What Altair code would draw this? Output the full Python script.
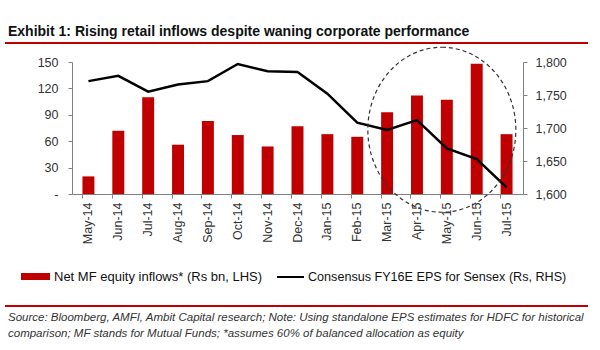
import altair as alt
import pandas as pd

months = ["May-14", "Jun-14", "Jul-14", "Aug-14", "Sep-14", "Oct-14", "Nov-14", "Dec-14",
          "Jan-15", "Feb-15", "Mar-15", "Apr-15", "May-15", "Jun-15", "Jul-15"]
inflows = [20, 72, 110, 56, 83, 67, 54, 77, 68, 65, 93, 112, 107, 148, 68]
eps = [1771, 1779, 1755, 1766, 1771, 1797, 1786, 1785, 1752, 1708, 1697, 1712, 1669, 1653, 1610]

title_text = "Exhibit 1:  Rising retail inflows despite waning corporate performance"
legend_bar = "Net MF equity inflows* (Rs bn, LHS)"
legend_line = "Consensus FY16E EPS for Sensex (Rs, RHS)"
source1 = "Source: Bloomberg, AMFI, Ambit Capital research; Note: Using standalone EPS estimates for HDFC for historical"
source2 = "comparison; MF stands for Mutual Funds; *assumes 60% of balanced allocation as equity"

df = pd.DataFrame({"month": months, "inflows": inflows, "eps": eps})

FONT = "Liberation Sans"
TXT = "#333333"
RED = "#C00000"

xscale = alt.Scale(domain=months, paddingInner=0.6, paddingOuter=0.35)

bars = alt.Chart(df).mark_bar(color=RED).encode(
    x=alt.X("month:N", sort=months, scale=xscale,
            axis=alt.Axis(title=None, labelAngle=-90, ticks=False, labelFontSize=12.5,
                          labelColor=TXT, labelFont=FONT, domainColor="#808080",
                          labelPadding=8, orient="bottom")),
    y=alt.Y("inflows:Q", scale=alt.Scale(domain=[0, 150], nice=False),
            axis=alt.Axis(title=None, values=[0, 30, 60, 90, 120, 150], grid=False,
                          labelExpr="datum.value == 0 ? '-' : datum.label",
                          labelFontSize=12.5, labelColor=TXT, labelFont=FONT,
                          domainColor="#808080", tickColor="#808080", tickSize=4,
                          labelPadding=10, orient="left")),
)

line = alt.Chart(df).mark_line(color="black", strokeWidth=2.5).encode(
    x=alt.X("month:N", sort=months, scale=xscale,
            axis=alt.Axis(title=None, labels=False, domain=False, ticks=True, tickSize=4,
                          tickColor="#808080", bandPosition=0, orient="bottom")),
    y=alt.Y("eps:Q", scale=alt.Scale(domain=[1600, 1800], nice=False),
            axis=alt.Axis(title=None, values=[1600, 1650, 1700, 1750, 1800], format=",.0f",
                          grid=False, labelFontSize=12.5, labelColor=TXT, labelFont=FONT,
                          domainColor="#808080", tickColor="#808080", tickSize=4,
                          labelPadding=8, orient="right")),
)

# dashed highlight ellipse around recent months
hl = pd.DataFrame({"month": ["May-15"], "v": [73]})
ellipse = alt.Chart(hl).mark_point(
    shape="M0,-1A0.897,1 0 1,1 0,1A0.897,1 0 1,1 0,-1Z", size=27225, filled=False,
    stroke="#333333", strokeWidth=1.2, strokeDash=[4, 3], xOffset=-5, opacity=1
).encode(
    x=alt.X("month:N", sort=months, scale=xscale, axis=None),
    y=alt.Y("v:Q", scale=alt.Scale(domain=[0, 150], nice=False), axis=None),
)

one = alt.Data(values=[{}])

def txt(text, x, y, size, weight="normal", style="normal", color=TXT, baseline="alphabetic"):
    return alt.Chart(one).mark_text(text=text, align="left", baseline=baseline, fontSize=size,
                                    font=FONT, fontWeight=weight, fontStyle=style,
                                    color=color).encode(x=alt.value(x), y=alt.value(y))

def rule(x1, x2, y, color, w):
    return alt.Chart(one).mark_rule(color=color, strokeWidth=w).encode(
        x=alt.value(x1), x2=alt.value(x2), y=alt.value(y))

title = txt(title_text, -64, -26, 14, weight="bold", color="#111111")
rule1 = rule(-67, 516, -19, RED, 2)
leg_rect = alt.Chart(one).mark_rect(color=RED).encode(
    x=alt.value(-51), x2=alt.value(-22), y=alt.value(211), y2=alt.value(218))
leg_t1 = txt(legend_bar, -18, 215, 13, baseline="middle", color="#111111")
leg_line = rule(205, 232, 215, "black", 2)
leg_t2 = txt(legend_line, 236, 215, 12.6, baseline="middle", color="#111111")
rule2 = rule(-67, 516, 244, RED, 2)
src1 = txt(source1, -64, 259, 11.5, style="italic")
src2 = txt(source2, -64, 275, 11.5, style="italic")

main = alt.layer(bars, line, ellipse).resolve_scale(y="independent").resolve_axis(x="independent", y="independent")

chart = alt.layer(main, title, rule1, leg_rect, leg_t1, leg_line, leg_t2, rule2, src1, src2).properties(
    width=451, height=132,
    autosize=alt.AutoSizeParams(type="none"),
    padding={"left": 72, "top": 62, "right": 77, "bottom": 156},
    background="white",
).configure_view(stroke=None)

chart.save("out.html", embed_options={"renderer": "svg", "actions": False})
